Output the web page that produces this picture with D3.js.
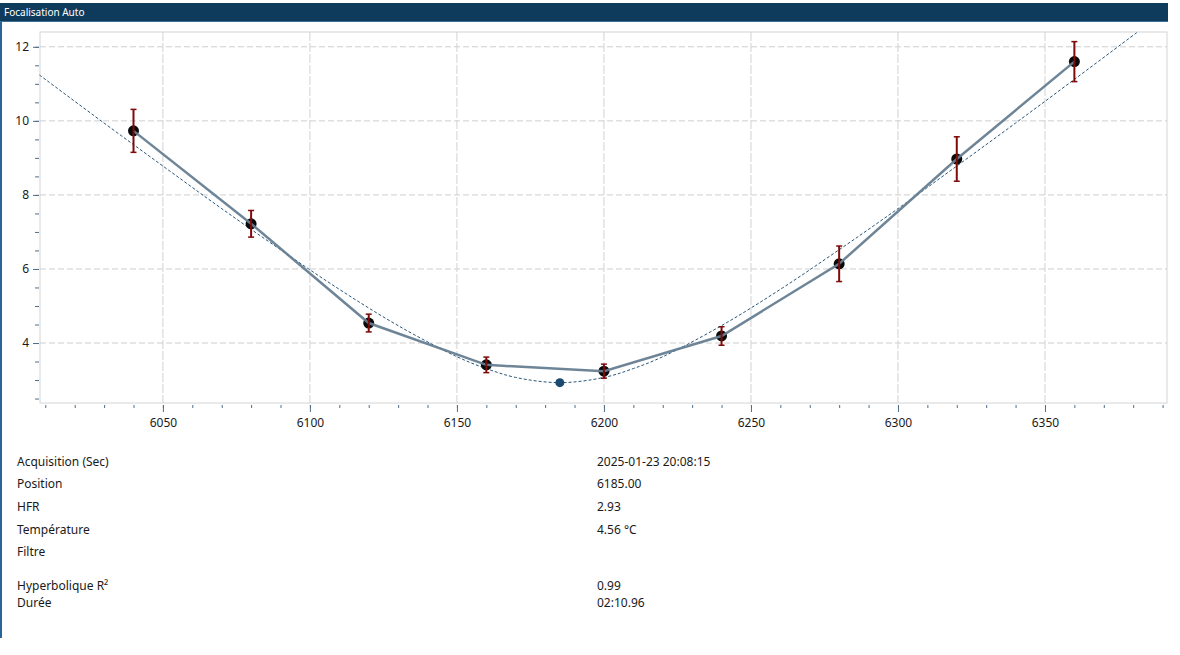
<!DOCTYPE html>
<html>
<head>
<meta charset="utf-8">
<script src="https://cdn.jsdelivr.net/npm/d3@7"></script>
<style>
  body { margin: 0; background: #fff; font-family: "Noto Sans", "Open Sans", sans-serif; }
</style>
</head>
<body>
<svg id="chart" width="1180" height="655"></svg>
<script>
// Focuser positions and measured HFR (with error)
const positions = [6040, 6080, 6120, 6160, 6200, 6240, 6280, 6320, 6360];
const hfrValues = [9.73, 7.22, 4.54, 3.41, 3.24, 4.19, 6.14, 8.97, 11.60];
const hfrErrors = [0.58, 0.36, 0.24, 0.21, 0.19, 0.25, 0.48, 0.60, 0.54];

// Hyperbolic fit
const fitPositions = [6008, 6030, 6050, 6070, 6090, 6110, 6130, 6150, 6160, 6170, 6185, 6200, 6210, 6220, 6240, 6260, 6280, 6300, 6320, 6340, 6360, 6381.5];
const fitValues = [11.24, 9.94, 8.78, 7.63, 6.52, 5.45, 4.47, 3.63, 3.31, 3.07, 2.93, 3.07, 3.31, 3.63, 4.47, 5.45, 6.52, 7.63, 8.78, 9.94, 11.12, 12.4];

// Best focus point
const bestPosition = 6185;
const bestHfr = 2.93;

// Tick labels
const xTicks = [6050, 6100, 6150, 6200, 6250, 6300, 6350];
const yTicks = [4, 6, 8, 10, 12];

// Info table below the chart
const infoLabels = ["Acquisition (Sec)", "Position", "HFR", "Température", "Filtre", "Hyperbolique R²", "Durée"];
const infoValues = ["2025-01-23 20:08:15", "6185.00", "2.93", "4.56 °C", "", "0.99", "02:10.96"];
const infoRows = [466, 488, 511, 534, 556, 590, 607];

const svg = d3.select("#chart");

// Window frame: left border and title bar
svg.append("rect").attr("x", 0).attr("y", 3).attr("width", 2).attr("height", 635).style("fill", "#2b6596");
svg.append("rect").attr("x", 0).attr("y", 3).attr("width", 1168).attr("height", 19).style("fill", "#0e3a5b");
svg.append("line").attr("x1", 0).attr("x2", 1168).attr("y1", 21.5).attr("y2", 21.5)
    .style("stroke", "#3c6f96").style("stroke-width", 1);
svg.append("text").attr("x", 4).attr("y", 16)
    .style("font-size", "10px").style("fill", "#fff")
    .text("Focalisation Auto");

const plotLeft = 40, plotRight = 1167, plotTop = 32, plotBottom = 403;

const x = d3.scaleLinear().domain([6008.2, 6391.5]).range([plotLeft, plotRight]);
const y = d3.scaleLinear().domain([2.38, 12.4]).range([plotBottom, plotTop]);

// Plot border
svg.append("rect")
    .attr("x", plotLeft).attr("y", plotTop)
    .attr("width", plotRight - plotLeft).attr("height", plotBottom - plotTop)
    .style("fill", "none").style("stroke", "#d4d4d4").style("stroke-width", 1);

// Grid lines
const grid = svg.append("g");
xTicks.forEach(t => {
    grid.append("line")
        .attr("x1", x(t)).attr("x2", x(t)).attr("y1", plotTop).attr("y2", plotBottom)
        .style("stroke", "#d2d2d2").style("stroke-width", 1).style("stroke-dasharray", "9,2");
});
yTicks.forEach(t => {
    grid.append("line")
        .attr("x1", plotLeft).attr("x2", plotRight).attr("y1", y(t)).attr("y2", y(t))
        .style("stroke", "#cfcfcf").style("stroke-width", 1).style("stroke-dasharray", "6,3");
});

// X axis: minor ticks then major with labels
const xMinor = d3.axisBottom(x).tickValues(d3.range(6010, 6391, 10)).tickSize(3).tickFormat("");
const xAxis = svg.append("g").attr("transform", `translate(0,${plotBottom + 2})`).call(xMinor);
const xMajor = d3.axisBottom(x).tickValues(xTicks).tickSize(7).tickPadding(6).tickFormat(d3.format("d"));
const xAxis2 = svg.append("g").attr("transform", `translate(0,${plotBottom + 2})`).call(xMajor);
[xAxis, xAxis2].forEach(g => {
    g.select(".domain").remove();
    g.selectAll(".tick line").style("stroke", "#4d6f8c");
    g.selectAll("text").style("font-size", "12px").style("fill", "#1a1a1a")
        .style("font-family", "'Noto Sans', sans-serif");
});

// Y axis
const yMinor = d3.axisLeft(y).tickValues(d3.range(2.5, 12.01, 0.5)).tickSize(4).tickFormat("");
const yAxis = svg.append("g").attr("transform", `translate(${plotLeft - 1},0)`).call(yMinor);
const yMajor = d3.axisLeft(y).tickValues(yTicks).tickSize(6).tickPadding(4).tickFormat(d3.format("d"));
const yAxis2 = svg.append("g").attr("transform", `translate(${plotLeft - 1},0)`).call(yMajor);
[yAxis, yAxis2].forEach(g => {
    g.select(".domain").remove();
    g.selectAll(".tick line").style("stroke", "#4d6f8c");
    g.selectAll("text").style("font-size", "12px").style("fill", "#1a1a1a")
        .style("font-family", "'Noto Sans', sans-serif");
});

const plot = svg.append("g");

// Fitted hyperbola (dashed)
const fitLine = d3.line().x(d => x(d[0])).y(d => y(d[1])).curve(d3.curveCatmullRom);
plot.append("path")
    .datum(fitPositions.map((p, i) => [p, fitValues[i]]))
    .attr("d", fitLine)
    .style("fill", "none").style("stroke", "#2a5679").style("stroke-width", 1)
    .style("stroke-dasharray", "3,2");

// Data points
positions.forEach((p, i) => {
    plot.append("circle")
        .attr("cx", x(p)).attr("cy", y(hfrValues[i])).attr("r", 5.5)
        .style("fill", "#0a0a0a");
});

// Measured line, drawn over the dots
const measLine = d3.line().x(d => x(d[0])).y(d => y(d[1]));
plot.append("path")
    .datum(positions.map((p, i) => [p, hfrValues[i]]))
    .attr("d", measLine)
    .style("fill", "none").style("stroke", "#667e92").style("stroke-width", 2.5)
    .style("stroke-opacity", 0.95);

// Error bars
positions.forEach((p, i) => {
    const cx = x(p);
    const y1 = y(hfrValues[i] + hfrErrors[i]);
    const y2 = y(hfrValues[i] - hfrErrors[i]);
    const g = plot.append("g").style("stroke", "#7e0a0a").style("stroke-width", 2);
    g.append("line").attr("x1", cx).attr("x2", cx).attr("y1", y1).attr("y2", y2);
    g.append("line").attr("x1", cx - 3).attr("x2", cx + 3).attr("y1", y1).attr("y2", y1).style("stroke-width", 1.5);
    g.append("line").attr("x1", cx - 3).attr("x2", cx + 3).attr("y1", y2).attr("y2", y2).style("stroke-width", 1.5);
});

// Best focus marker
plot.append("circle")
    .attr("cx", x(bestPosition)).attr("cy", y(bestHfr)).attr("r", 4.5)
    .style("fill", "#1b4a70");

// Info table
infoLabels.forEach((label, i) => {
    svg.append("text").attr("x", 17).attr("y", infoRows[i])
        .style("font-size", "12px").style("fill", "#1a1a1a")
        .text(label);
    svg.append("text").attr("x", 597).attr("y", infoRows[i])
        .style("font-size", "12px").style("fill", "#1a1a1a")
        .text(infoValues[i]);
});
</script>
</body>
</html>
